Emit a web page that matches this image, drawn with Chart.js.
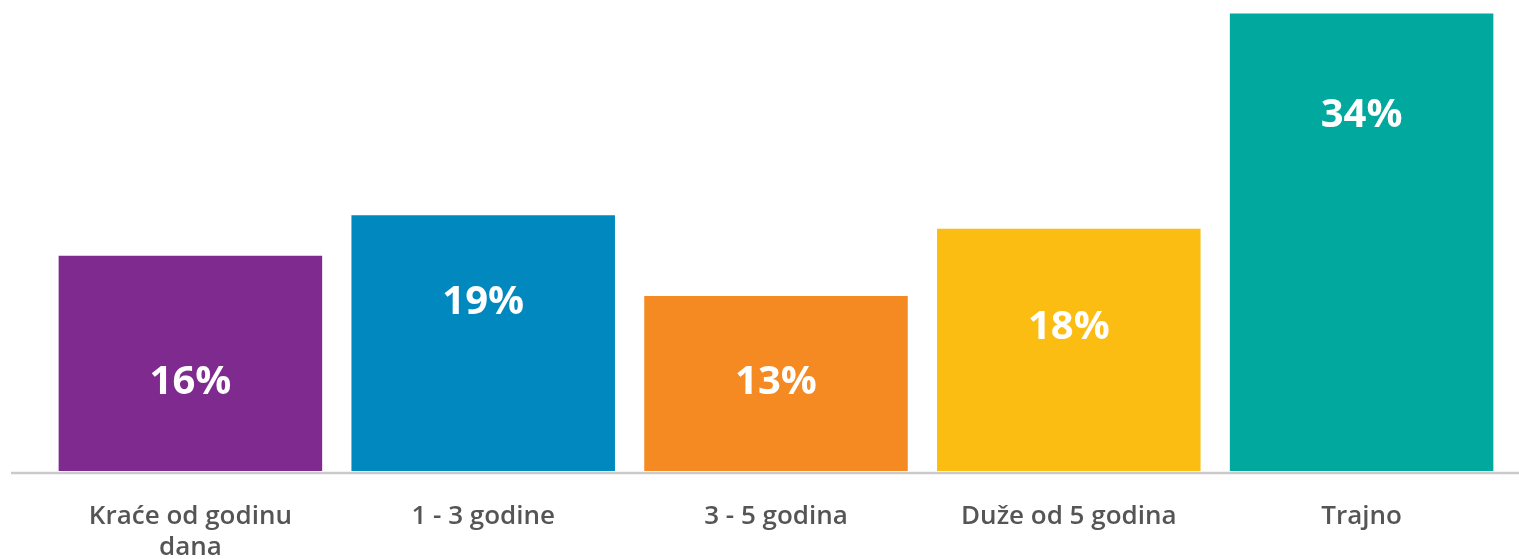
<!DOCTYPE html>
<html>
<head>
<meta charset="utf-8">
<script src="https://cdn.jsdelivr.net/npm/chart.js@4/dist/chart.umd.min.js"></script>
<style>
  html, body { margin: 0; padding: 0; background: #ffffff; }
  #wrap { width: 1519px; height: 559px; position: relative; }
</style>
</head>
<body>
<div id="wrap"><canvas id="duration-chart"></canvas></div>
<script>
const categories = [['Kraće od godinu', 'dana'], '1 - 3 godine', '3 - 5 godina', 'Duže od 5 godina', 'Trajno'];
const shares = [16, 19, 13, 18, 34];
const barColors = ['#7f2a8e', '#0088bf', '#f48a21', '#fcbd13', '#00a89d'];

// bijeli postotak unutar stupca, pomak od vrha stupca
const valueLabels = {
  id: 'valueLabels',
  afterDatasetsDraw(chart, args, opts) {
    const { ctx } = chart;
    const meta = chart.getDatasetMeta(0);
    ctx.save();
    ctx.fillStyle = '#ffffff';
    ctx.font = 'bold 40px "Open Sans"';
    ctx.textAlign = 'center';
    ctx.textBaseline = 'middle';
    meta.data.forEach((bar, i) => {
      const v = chart.data.datasets[0].data[i];
      ctx.fillText(v + '%', bar.x, bar.y + opts.offsets[i]);
    });
    ctx.restore();
  }
};

// siva osnovna linija preko cijele širine
const baseLine = {
  id: 'baseLine',
  afterDatasetsDraw(chart) {
    const { ctx, chartArea: { bottom } } = chart;
    ctx.save();
    ctx.strokeStyle = '#cacaca';
    ctx.lineWidth = 2.5;
    ctx.beginPath();
    ctx.moveTo(11, bottom + 2);
    ctx.lineTo(chart.width, bottom + 2);
    ctx.stroke();
    ctx.restore();
  }
};

const config = {
  type: 'bar',
  data: {
    labels: categories,
    datasets: [{
      data: shares,
      backgroundColor: barColors,
      borderWidth: 0,
      barPercentage: 0.9,
      categoryPercentage: 1,
    }]
  },
  options: {
    responsive: true,
    maintainAspectRatio: false,
    animation: false,
    layout: {
      padding: { left: 44, right: 11, top: 0, bottom: 0 }
    },
    plugins: {
      legend: { display: false },
      tooltip: { enabled: false },
      valueLabels: { offsets: [127, 87, 87, 99, 102] }
    },
    scales: {
      x: {
        grid: { display: false, drawTicks: false },
        border: { display: false },
        afterFit(scale) { scale.height = 88; },
        ticks: {
          color: '#555555',
          padding: 31,
          maxRotation: 0,
          autoSkip: false,
          font: { family: 'Open Sans', weight: 600, size: 26, lineHeight: 1.16 }
        }
      },
      y: {
        display: false,
        min: 0,
        max: 35,
      }
    }
  },
  plugins: [valueLabels, baseLine]
};

const durationChart = new Chart(document.getElementById('duration-chart'), config);
</script>
</body>
</html>
